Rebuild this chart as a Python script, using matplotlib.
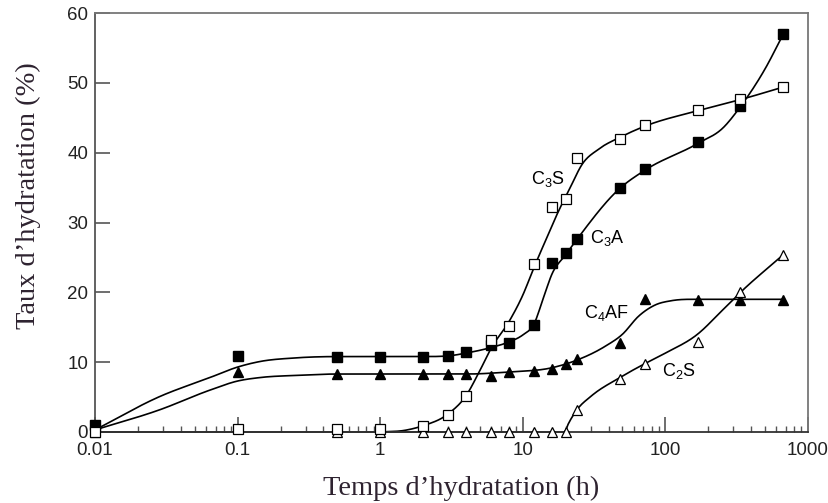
import numpy as np
import matplotlib
matplotlib.use("Agg")
import matplotlib.pyplot as plt

plt.rcParams['font.family'] = ['Liberation Sans', 'DejaVu Sans']
plt.rcParams['mathtext.fontset'] = 'custom'
plt.rcParams['mathtext.rm'] = 'Liberation Sans'

# measured points (time in h, hydration %)
t_c3s = [0.01, 0.1, 0.5, 1, 2, 3, 4, 6, 8, 12, 16, 20, 24, 48, 72, 168, 336, 672]
c3s = [0, 0.4, 0.4, 0.4, 0.9, 2.5, 5.2, 13.2, 15.2, 24.0, 32.2, 33.3, 39.3, 42.0, 43.9, 46.1, 47.7, 49.4]

t_c3a = [0.01, 0.1, 0.5, 1, 2, 3, 4, 6, 8, 12, 16, 20, 24, 48, 72, 168, 336, 672]
c3a = [1.0, 10.9, 10.8, 10.8, 10.8, 10.9, 11.5, 12.4, 12.8, 15.3, 24.2, 25.6, 27.7, 35.0, 37.6, 41.5, 46.7, 57.0]

t_c4af = [0.01, 0.1, 0.5, 1, 2, 3, 4, 6, 8, 12, 16, 20, 24, 48, 72, 168, 336, 672]
c4af = [0.3, 8.6, 8.3, 8.3, 8.3, 8.3, 8.3, 8.0, 8.6, 8.8, 9.0, 9.7, 10.4, 12.8, 19.0, 18.9, 18.9, 18.9]

t_c2s = [0.01, 0.5, 1, 2, 3, 4, 6, 8, 12, 16, 20, 24, 48, 72, 168, 336, 672]
c2s = [0, 0, 0, 0, 0, 0, 0, 0, 0, 0, 0, 3.1, 7.6, 9.8, 12.9, 20.0, 25.3]

# fitted curves
fx_c3s = [1, 1.5, 2, 3, 4, 5, 6, 8, 10, 12, 14.5, 17.5, 21.5, 26, 34, 48, 72, 168, 336, 672]
fy_c3s = [0, 0.25, 0.9, 2.6, 5.2, 8.8, 12.0, 15.8, 19.6, 23.6, 27.5, 31.3, 35.0, 38.3, 40.5, 42.2, 43.8, 46.0, 47.6, 49.4]

fx_c3a = [0.01, 0.0286, 0.064, 0.1, 0.144, 0.25, 0.5, 2, 3, 4, 6, 8, 10, 12, 14, 16, 20, 24, 48, 72, 168, 255, 336, 500, 672]
fy_c3a = [0.3, 5.1, 7.8, 9.3, 10.1, 10.6, 10.8, 10.8, 10.9, 11.3, 12.1, 12.9, 13.9, 15.5, 19.3, 22.6, 25.4, 27.6, 34.9, 37.5, 41.3, 43.6, 46.6, 52.0, 57.0]

fx_c4af = [0.01, 0.0286, 0.064, 0.1, 0.144, 0.25, 0.5, 4, 8, 16, 24, 38, 50, 65, 85, 110, 150, 672]
fy_c4af = [0.3, 3.2, 6.0, 7.3, 7.8, 8.1, 8.3, 8.3, 8.6, 9.2, 10.3, 12.3, 14.0, 16.6, 18.2, 18.8, 19.0, 19.0]

fx_c2s = [0.01, 19.5, 21, 24, 30, 48, 72, 100, 168, 250, 336, 672]
fy_c2s = [0, 0, 1.3, 3.2, 5.1, 7.8, 9.8, 11.3, 14.0, 17.4, 20.0, 25.4]


def smooth(xk, yk, n=500):
    # monotone cubic Hermite in log10(x), slopes limited (Fritsch-Carlson)
    lx = np.log10(np.asarray(xk, float))
    y = np.asarray(yk, float)
    h = np.diff(lx)
    d = np.diff(y) / h
    m = np.zeros_like(y)
    m[0], m[-1] = d[0], d[-1]
    for i in range(1, len(y) - 1):
        if d[i - 1] * d[i] > 0:
            m[i] = (d[i - 1] * h[i] + d[i] * h[i - 1]) / (h[i] + h[i - 1])
    for i in range(len(d)):
        if d[i] == 0:
            m[i] = m[i + 1] = 0
        else:
            a, b = m[i] / d[i], m[i + 1] / d[i]
            r = a * a + b * b
            if r > 9:
                tau = 3 / np.sqrt(r)
                m[i], m[i + 1] = tau * a * d[i], tau * b * d[i]
    xs = np.linspace(lx[0], lx[-1], n)
    idx = np.clip(np.searchsorted(lx, xs) - 1, 0, len(h) - 1)
    s = (xs - lx[idx]) / h[idx]
    h00 = 2 * s**3 - 3 * s**2 + 1
    h10 = s**3 - 2 * s**2 + s
    h01 = -2 * s**3 + 3 * s**2
    h11 = s**3 - s**2
    ys = h00 * y[idx] + h10 * h[idx] * m[idx] + h01 * y[idx + 1] + h11 * h[idx] * m[idx + 1]
    return 10**xs, ys


fig = plt.figure(figsize=(8.29, 5.03), dpi=100)
ax = fig.add_axes([95 / 829, 1 - 432 / 503, 713 / 829, 419 / 503])

for fx, fy in [(fx_c3s, fy_c3s), (fx_c3a, fy_c3a), (fx_c4af, fy_c4af), (fx_c2s, fy_c2s)]:
    xs, ys = smooth(fx, fy)
    ax.plot(xs, ys, color='black', lw=1.2, zorder=2, clip_on=False)

ax.plot(t_c4af, c4af, ls='none', marker='^', ms=6.5, mfc='black', mec='black', zorder=3, clip_on=False)
ax.plot(t_c2s, c2s, ls='none', marker='^', ms=7, mfc='white', mec='black', mew=0.9, zorder=4, clip_on=False)
ax.plot(t_c3a, c3a, ls='none', marker='s', ms=6.5, mfc='black', mec='black', zorder=5, clip_on=False)
ax.plot(t_c3s, c3s, ls='none', marker='s', ms=6.5, mfc='white', mec='black', mew=0.9, zorder=6, clip_on=False)

ax.set_xscale('log')
ax.set_xlim(0.01, 1000)
ax.set_ylim(0, 60)
ax.set_xticks([0.01, 0.1, 1, 10, 100, 1000])
ax.set_xticklabels(['0.01', '0.1', '1', '10', '100', '1000'])
ax.set_yticks([0, 10, 20, 30, 40, 50, 60])
ax.tick_params(axis='both', which='major', direction='in', labelsize=13.5, color='#555555', width=1.2,
               labelcolor='#222222')
ax.tick_params(axis='x', which='major', length=11, pad=7, top=False)
ax.tick_params(axis='x', which='minor', direction='in', length=4, color='#555555', width=1, top=False)
ax.tick_params(axis='y', which='major', length=11, pad=5, right=False)
for sp in ax.spines.values():
    sp.set_color('#777777')
    sp.set_linewidth(1.3)
ax.spines['bottom'].set_color('#333333')
ax.spines['left'].set_color('#555555')

ax.text(14.9, 36.3, 'C$_{3}$S', fontsize=13, ha='center', va='center')
ax.text(39, 27.8, 'C$_{3}$A', fontsize=13, ha='center', va='center')
ax.text(38.5, 17.0, 'C$_{4}$AF', fontsize=13, ha='center', va='center')
ax.text(125, 8.7, 'C$_{2}$S', fontsize=13, ha='center', va='center')

lab_color = '#2e2330'
fig.text(461 / 829, 1 - 488 / 503, 'Temps d\u2019hydratation (h)', family='Liberation Serif',
         fontsize=20.5, color=lab_color, ha='center', va='center')
fig.text(28 / 829, 1 - 196 / 503, 'Taux d\u2019hydratation (%)', family='Liberation Serif',
         fontsize=20.5, color=lab_color, ha='center', va='center', rotation=90)

fig.savefig('out.png', dpi=100)
